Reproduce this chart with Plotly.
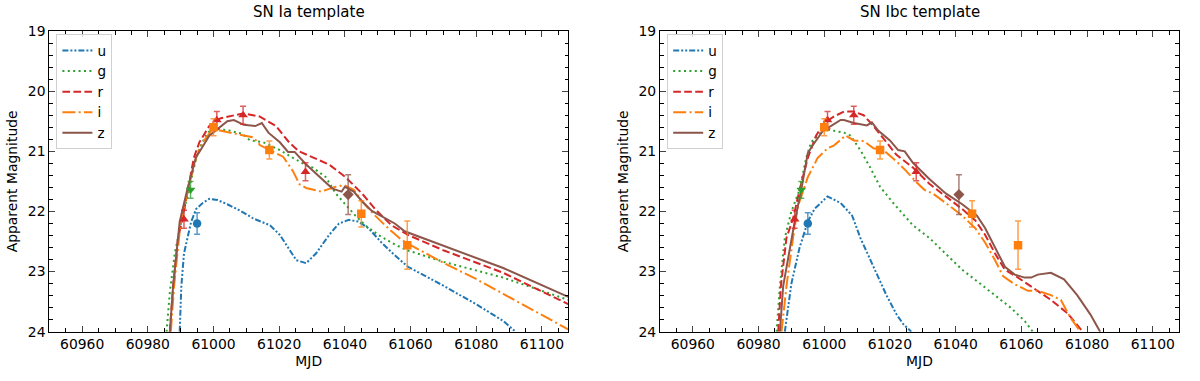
import plotly.graph_objects as go

# SN Ia template light curves (MJD, apparent magnitude)
ia_u_mjd = [60989.7, 60990.2, 60991, 60992, 60993.2, 60994.7, 60996.7, 60998.7, 61001.2, 61004.2, 61008.2, 61012.2,
            61017.2, 61020.2, 61023.2, 61025.2, 61028.2, 61031.2, 61035.2, 61038.2, 61041.2, 61044.2, 61047.2,
            61051.2, 61055.2, 61059.2, 61070.2, 61080.2, 61088.2, 61092]
ia_u_mag = [24.0, 23.24, 22.7, 22.44, 22.17, 21.96, 21.86, 21.79, 21.81, 21.88, 21.99, 22.12,
            22.23, 22.39, 22.65, 22.81, 22.86, 22.7, 22.39, 22.2, 22.14, 22.17, 22.28,
            22.52, 22.73, 22.92, 23.24, 23.55, 23.82, 24.0]
ia_g_mjd = [60985.7, 60986.7, 60988.2, 60990.2, 60992.5, 60994.7, 60995.7, 60998.2, 61000.2, 61005.2, 61008.7,
            61011.2, 61015.2, 61020.2, 61024.2, 61028.2, 61030.2, 61034.2, 61037.2, 61040.2, 61043.2, 61046.2,
            61050.2, 61055.2, 61059.2, 61070.2, 61088.2, 61108]
ia_g_mag = [24.0, 23.34, 22.7, 22.17, 21.64, 21.11, 20.95, 20.69, 20.62, 20.66, 20.71,
            20.82, 20.85, 20.98, 21.11, 21.23, 21.27, 21.43, 21.7, 21.88, 22.07, 22.23,
            22.39, 22.55, 22.65, 22.84, 23.1, 23.47]
ia_r_mjd = [60986.7, 60987.7, 60989.2, 60990.5, 60992.2, 60994, 60995.7, 60998.7, 61002.2, 61006.2, 61009, 61014,
            61019, 61023, 61026, 61035.2, 61040.2, 61045.2, 61049.2, 61054.2, 61059.2, 61070.2, 61088.2, 61108]
ia_r_mag = [24.0, 23.24, 22.44, 22.14, 21.64, 21.11, 20.85, 20.58, 20.45, 20.4, 20.37, 20.42,
            20.58, 20.85, 21.0, 21.22, 21.43, 21.7, 21.96, 22.23, 22.39, 22.65, 23.02, 23.54]
ia_i_mjd = [60987, 60988, 60990, 60992.2, 60994.7, 60996.7, 60999.7, 61004.2, 61009.2, 61012.2, 61014.2, 61017.2,
            61021.2, 61024.2, 61026.2, 61028.2, 61032.7, 61037.2, 61039.7, 61042.7, 61045.2, 61049.2, 61053.2,
            61057.2, 61059.7, 61070.2, 61080.2, 61088.2, 61108]
ia_i_mag = [24.0, 23.24, 22.17, 21.64, 21.11, 20.85, 20.63, 20.68, 20.74, 20.77, 20.9, 20.98,
            21.09, 21.33, 21.55, 21.61, 21.67, 21.59, 21.56, 21.64, 21.83, 22.07, 22.28,
            22.47, 22.55, 22.86, 23.13, 23.37, 23.96]
ia_z_mjd = [60986.7, 60987.7, 60989.7, 60992, 60994.7, 60995.7, 60998.7, 61001.2, 61004.2, 61006.2, 61009.2,
            61012.7, 61014.7, 61016.7, 61020.2, 61022.7, 61024.7, 61028.2, 61033.2, 61036.2, 61039, 61040,
            61042.7, 61045.2, 61048.2, 61051.2, 61055.2, 61058.2, 61070.2, 61088.2, 61108]
ia_z_mag = [24.0, 23.24, 22.17, 21.64, 21.09, 21.01, 20.74, 20.63, 20.5, 20.48, 20.56,
            20.58, 20.53, 20.69, 20.85, 21.01, 21.01, 21.22, 21.46, 21.62, 21.67, 21.59,
            21.67, 21.83, 21.99, 22.08, 22.2, 22.33, 22.57, 22.94, 23.42]

# SN Ibc template light curves
ibc_u_mjd = [60988, 60990, 60992.5, 60995, 60997, 61000, 61001, 61005, 61008.5, 61011, 61015, 61019, 61022,
             61024, 61026.5]
ibc_u_mag = [24.0, 23.2, 22.6, 22.17, 21.96, 21.8, 21.75, 21.86, 22.07, 22.44, 22.92, 23.4, 23.71,
             23.87, 24.0]
ibc_g_mjd = [60985.5, 60986.5, 60988, 60990, 60992.5, 60994.5, 60996, 61000, 61003, 61006, 61008, 61011, 61014,
             61017, 61021, 61025, 61027, 61032, 61037, 61042, 61047, 61052, 61057, 61061, 61063.5]
ibc_g_mag = [24.0, 23.24, 22.44, 22.0, 21.64, 21.11, 20.85, 20.63, 20.66, 20.69, 20.74, 20.98, 21.27,
             21.59, 21.86, 22.1, 22.23, 22.44, 22.7, 22.97, 23.18, 23.39, 23.61, 23.82, 24.0]
ibc_r_mjd = [60986, 60986.8, 60988.5, 60990.5, 60992.5, 60995, 60997.5, 61000, 61003, 61006, 61009, 61012, 61015,
             61018, 61022, 61027, 61032, 61037, 61042, 61046, 61049, 61052, 61055, 61059, 61064, 61069, 61074,
             61077.5, 61078.7]
ibc_r_mag = [24.0, 23.24, 22.44, 22.12, 21.64, 21.11, 20.74, 20.53, 20.42, 20.34, 20.34, 20.4, 20.58,
             20.79, 21.06, 21.27, 21.54, 21.75, 21.96, 22.15, 22.39, 22.7, 22.97, 23.1, 23.29, 23.47, 23.69,
             23.93, 24.0]
ibc_i_mjd = [60987, 60988.5, 60990.5, 60992, 60995, 60998, 61001, 61003, 61006.5, 61009, 61012, 61015, 61018,
             61022, 61025, 61028, 61030.5, 61033, 61037, 61042, 61046, 61049, 61052, 61054.5, 61058, 61062,
             61065, 61069, 61072, 61075, 61078]
ibc_i_mag = [24.0, 23.24, 22.44, 21.91, 21.43, 21.11, 20.95, 20.9, 20.74, 20.82, 20.83, 20.95, 20.98,
             21.17, 21.33, 21.51, 21.64, 21.7, 21.86, 22.07, 22.28, 22.52, 22.81, 23.08, 23.21, 23.32,
             23.32, 23.39, 23.47, 23.77, 24.0]
ibc_z_mjd = [60986.5, 60987.5, 60991, 60993, 60995, 60996.5, 61000, 61002, 61005, 61006, 61009, 61013, 61014.5,
             61016.5, 61020, 61022.5, 61024.5, 61027, 61032, 61037, 61042, 61046.5, 61049, 61052, 61055, 61058,
             61061, 61063, 61065, 61069, 61073, 61077, 61081, 61084]
ibc_z_mag = [24.0, 23.24, 22.17, 21.64, 21.03, 20.9, 20.63, 20.58, 20.48, 20.48, 20.53, 20.57, 20.52,
             20.66, 20.82, 20.98, 21.0, 21.19, 21.46, 21.7, 21.88, 22.07, 22.28, 22.6, 22.92, 23.05,
             23.1, 23.1, 23.05, 23.02, 23.13, 23.39, 23.71, 24.0]

# observed photometry (same in both panels)
obs_u_mjd = [60995]
obs_u_mag = [22.2]
obs_u_err = [0.18]
obs_g_mjd = [60993]
obs_g_mag = [21.64]
obs_g_err = [0.14]
obs_r_mjd = [60991, 61001, 61009, 61028]
obs_r_mag = [22.13, 20.48, 20.4, 21.34]
obs_r_err = [0.15, 0.14, 0.15, 0.15]
obs_i_mjd = [61000, 61017, 61045, 61059]
obs_i_mag = [20.6, 20.98, 22.04, 22.56]
obs_i_err = [0.14, 0.15, 0.22, 0.4]
obs_z_mjd = [61041]
obs_z_mag = [21.72]
obs_z_err = [0.33]

bands = ['u', 'g', 'r', 'i', 'z']
colors = {'u': '#1f77b4', 'g': '#2ca02c', 'r': '#d62728', 'i': '#ff7f0e', 'z': '#8c564b'}
err_colors = {'u': 'rgba(31,119,180,0.75)', 'g': 'rgba(44,160,44,0.75)', 'r': 'rgba(214,39,40,0.75)',
              'i': 'rgba(255,127,14,0.75)', 'z': 'rgba(140,86,75,0.75)'}
dashes = {'u': '6px,2px,2px,2px,2px,2px', 'g': '2px,3.4px', 'r': '7.7px,3.3px',
          'i': '13px,3.3px,2px,3.3px', 'z': 'solid'}
symbols = {'u': 'circle', 'g': 'triangle-down', 'r': 'triangle-up', 'i': 'square', 'z': 'diamond'}

ia = {'u': (ia_u_mjd, ia_u_mag), 'g': (ia_g_mjd, ia_g_mag), 'r': (ia_r_mjd, ia_r_mag),
      'i': (ia_i_mjd, ia_i_mag), 'z': (ia_z_mjd, ia_z_mag)}
ibc = {'u': (ibc_u_mjd, ibc_u_mag), 'g': (ibc_g_mjd, ibc_g_mag), 'r': (ibc_r_mjd, ibc_r_mag),
       'i': (ibc_i_mjd, ibc_i_mag), 'z': (ibc_z_mjd, ibc_z_mag)}
obs = {'u': (obs_u_mjd, obs_u_mag, obs_u_err), 'g': (obs_g_mjd, obs_g_mag, obs_g_err),
       'r': (obs_r_mjd, obs_r_mag, obs_r_err), 'i': (obs_i_mjd, obs_i_mag, obs_i_err),
       'z': (obs_z_mjd, obs_z_mag, obs_z_err)}

fig = go.Figure()


def add_panel(fig, curves, xa, ya, legend):
    for b in bands:
        x, y = curves[b]
        fig.add_trace(go.Scatter(x=x, y=y, mode='lines', name=b, xaxis=xa, yaxis=ya, legend=legend,
                                 line=dict(color=colors[b], width=2, dash=dashes[b])))
    for b in bands:
        x, y, e = obs[b]
        fig.add_trace(go.Scatter(x=x, y=y, mode='markers', showlegend=False, xaxis=xa, yaxis=ya,
                                 marker=dict(color=colors[b], symbol=symbols[b], size=8.5),
                                 error_y=dict(type='data', array=e, color=err_colors[b],
                                              thickness=1.5, width=3)))


add_panel(fig, ia, 'x', 'y', 'legend')
add_panel(fig, ibc, 'x2', 'y2', 'legend2')

font = dict(family='DejaVu Sans', size=13.9, color='black')

xax = dict(range=[60950, 61108], tick0=60960, dtick=20, ticks='inside', ticklen=6, tickwidth=1,
           showline=True, linecolor='black', linewidth=1.1, mirror='ticks', showgrid=False,
           zeroline=False, tickformat='d', title=dict(text='MJD', font=font, standoff=4),
           tickfont=font, minor=dict(dtick=5, tick0=60950, ticks='inside', ticklen=3.5, tickwidth=1,
                                     tickcolor='black', showgrid=False))
yax = dict(range=[24, 19], dtick=1, ticks='inside', ticklen=6, tickwidth=1,
           showline=True, linecolor='black', linewidth=1.1, mirror='ticks', showgrid=False,
           zeroline=False, title=dict(text='Apparent Magnitude', font=font, standoff=6),
           tickfont=font, minor=dict(dtick=0.2, ticks='inside', ticklen=3.5, tickwidth=1,
                                     tickcolor='black', showgrid=False))

legend_style = dict(font=dict(family='DejaVu Sans', size=13.5, color='black'), bordercolor='#d0d0d0',
                    borderwidth=1, bgcolor='rgba(255,255,255,0.8)', xanchor='left', yanchor='top',
                    itemwidth=30, tracegroupgap=0)

title_font = dict(family='DejaVu Sans', size=15, color='black')

fig.update_layout(
    width=1200, height=381,
    margin=dict(l=0, r=0, t=0, b=0),
    paper_bgcolor='white', plot_bgcolor='white',
    xaxis=dict(xax, domain=[0.0411, 0.4735], anchor='y'),
    yaxis=dict(yax, domain=[0.113, 0.937], anchor='x'),
    xaxis2=dict(xax, domain=[0.55, 0.9825], anchor='y2'),
    yaxis2=dict(yax, domain=[0.113, 0.937], anchor='x2'),
    legend=dict(legend_style, x=0.047, y=0.928),
    legend2=dict(legend_style, x=0.556, y=0.928),
    annotations=[
        dict(text='SN Ia template', x=0.2573, y=0.958, xref='paper', yref='paper', showarrow=False,
             xanchor='center', yanchor='bottom', font=title_font),
        dict(text='SN Ibc template', x=0.7663, y=0.958, xref='paper', yref='paper', showarrow=False,
             xanchor='center', yanchor='bottom', font=title_font),
    ],
)

# drop the default page margin so the figure sits at the window origin
fig.write_html("out.html", config={'displayModeBar': False},
               post_script="document.body.style.margin='0';document.body.style.overflow='hidden';")
